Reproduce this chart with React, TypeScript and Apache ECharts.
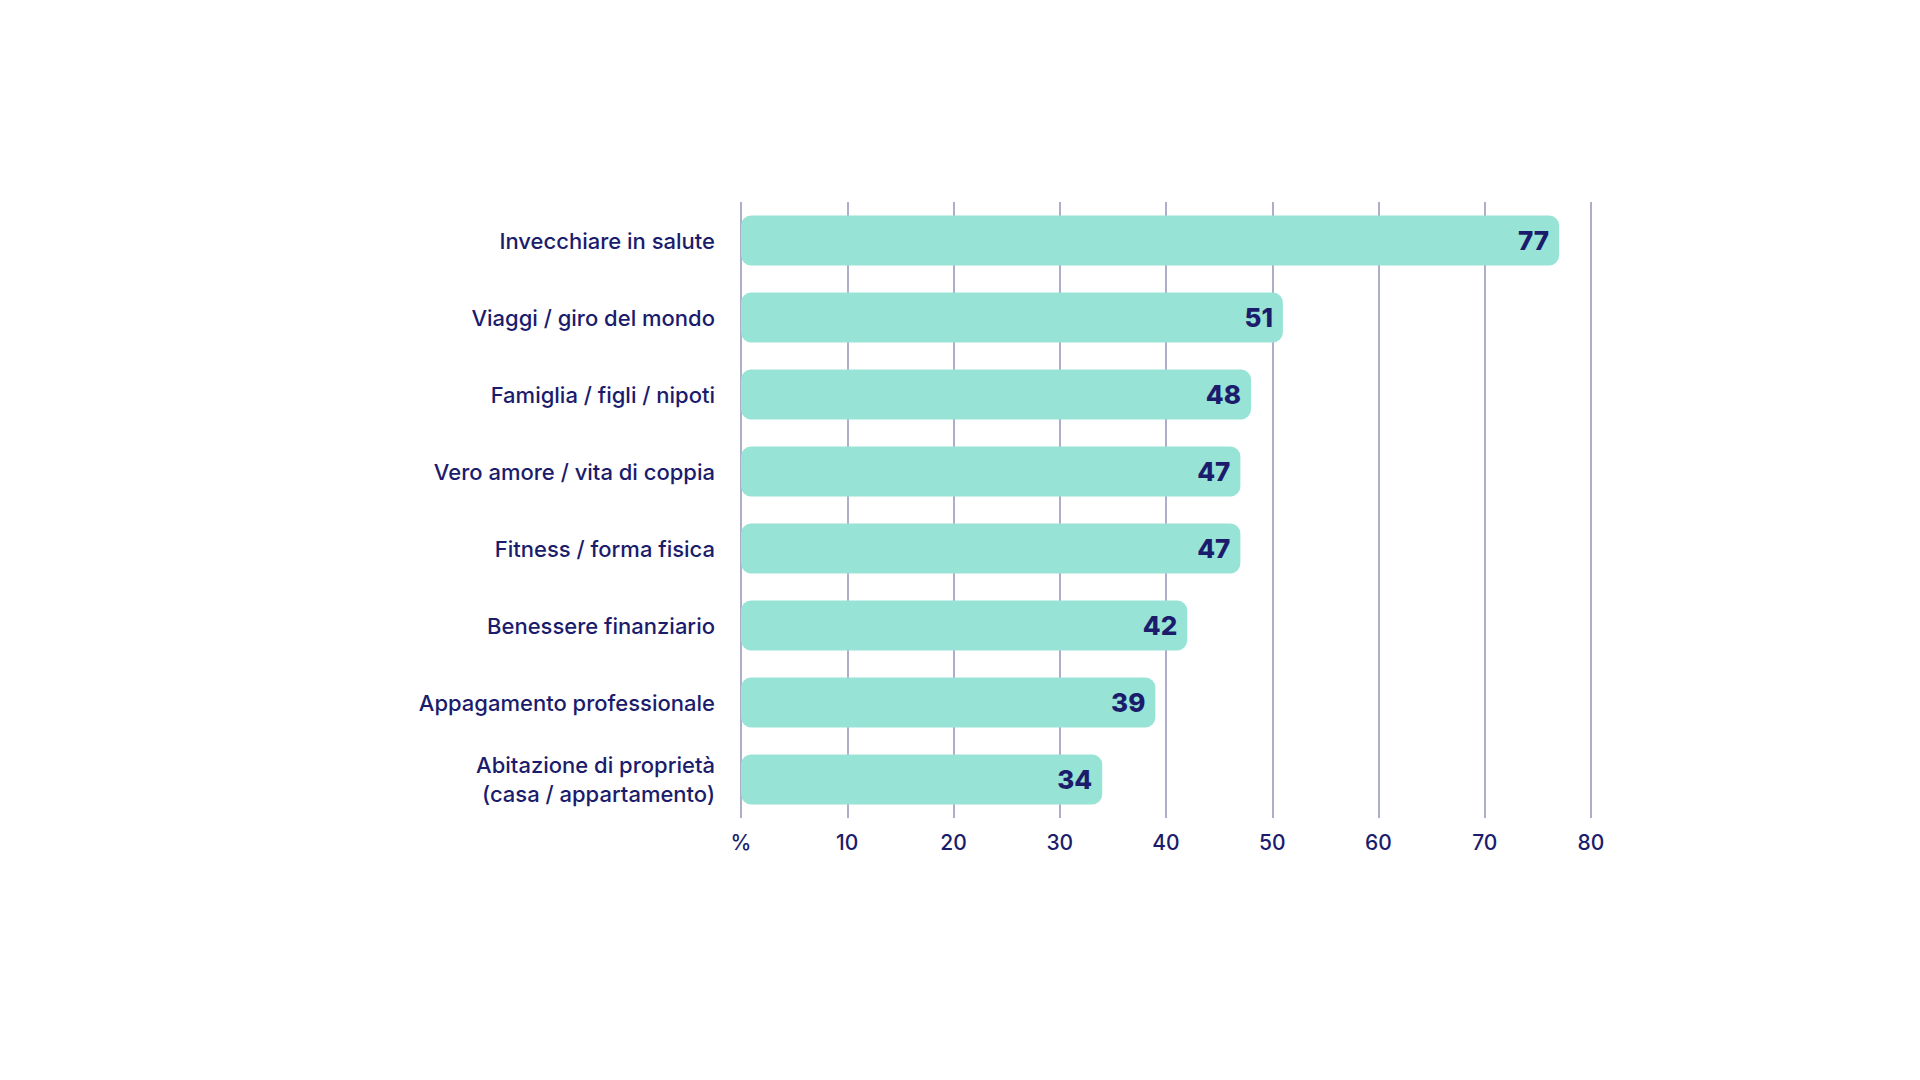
import { useEffect, useRef } from 'react';
import * as echarts from 'echarts';

const categories = [
  'Invecchiare in salute',
  'Viaggi / giro del mondo',
  'Famiglia / figli / nipoti',
  'Vero amore / vita di coppia',
  'Fitness / forma fisica',
  'Benessere finanziario',
  'Appagamento professionale',
  'Abitazione di proprietà\n(casa / appartamento)',
];

const values = [77, 51, 48, 47, 47, 42, 39, 34];

const NAVY = '#1b1c6c';
const MINT = '#97e3d5';
const GRID = '#9293b9';

export default function App() {
  const chartRef = useRef<HTMLDivElement>(null);

  useEffect(() => {
    document.body.style.margin = '0';
    if (!chartRef.current) return;

    const chart = echarts.init(chartRef.current, null, { renderer: 'svg' });
    chart.setOption({
      animation: false,
      backgroundColor: '#ffffff',
      textStyle: { fontFamily: 'Inter', color: NAVY },
      grid: {
        left: 741,
        right: 329,
        top: 202,
        bottom: 262,
      },
      xAxis: {
        type: 'value',
        min: 0,
        max: 80,
        interval: 10,
        axisLine: { show: false },
        axisTick: { show: false },
        axisLabel: {
          margin: 14,
          color: NAVY,
          fontSize: 21,
          fontWeight: 500,
          fontFamily: 'Inter',
          formatter: (v: number) => (v === 0 ? '%' : String(v)),
        },
        splitLine: {
          show: true,
          lineStyle: { color: GRID, width: 1.5 },
        },
      },
      yAxis: {
        type: 'category',
        inverse: true,
        data: categories,
        axisLine: { show: false },
        axisTick: { show: false },
        axisLabel: {
          margin: 26,
          color: NAVY,
          fontSize: 22,
          fontWeight: 500,
          fontFamily: 'Inter',
          lineHeight: 29,
          align: 'right',
        },
      },
      series: [
        {
          type: 'bar',
          data: values,
          barWidth: 50,
          itemStyle: { color: MINT, borderRadius: 10 },
          label: {
            show: true,
            position: 'insideRight',
            distance: 10,
            color: NAVY,
            fontSize: 26,
            fontWeight: 800,
            fontFamily: 'Inter',
          },
        },
      ],
    });

    return () => {
      chart.dispose();
    };
  }, []);

  return <div ref={chartRef} style={{ width: '1920px', height: '1080px' }} />;
}
